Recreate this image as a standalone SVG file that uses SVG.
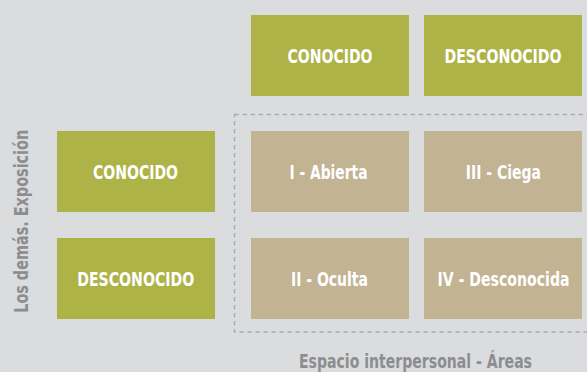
<svg xmlns="http://www.w3.org/2000/svg" width="587" height="372" viewBox="0 0 587 372">
<style>
.g{fill:#AEB348}
.t{fill:#C2B393}
.lb{font-family:"DejaVu Sans Condensed","DejaVu Sans",sans-serif;font-stretch:condensed;font-weight:bold;font-size:19.5px;fill:#FFFFFF;text-anchor:middle}
.ax{font-family:"DejaVu Sans Condensed","DejaVu Sans",sans-serif;font-stretch:condensed;font-weight:bold;font-size:19px;fill:#8C8D8F;text-anchor:middle}
</style>
<rect width="587" height="372" fill="#DBDCDE"/>
<g id="area-frame">
<rect x="234.5" y="114.5" width="360" height="217.5" fill="none" stroke="#ABACAE" stroke-width="1.5" stroke-dasharray="4.5,3.5"/>
</g>
<g id="top-conocido"><rect class="g" x="251" y="15" width="158" height="81"/><text class="lb" transform="translate(330,63.3) scale(0.8,1)" textLength="106.25" lengthAdjust="spacingAndGlyphs">CONOCIDO</text></g>
<g id="top-desconocido"><rect class="g" x="424" y="15" width="158" height="81"/><text class="lb" transform="translate(503,63.3) scale(0.8,1)" textLength="146.25" lengthAdjust="spacingAndGlyphs">DESCONOCIDO</text></g>
<g id="left-conocido"><rect class="g" x="57" y="131" width="158" height="81"/><text class="lb" transform="translate(135.5,179.3) scale(0.8,1)" textLength="106.25" lengthAdjust="spacingAndGlyphs">CONOCIDO</text></g>
<g id="left-desconocido"><rect class="g" x="57" y="238" width="158" height="81"/><text class="lb" transform="translate(135.7,286.3) scale(0.8,1)" textLength="146.25" lengthAdjust="spacingAndGlyphs">DESCONOCIDO</text></g>
<g id="abierta"><rect class="t" x="251" y="131" width="158" height="81"/><text class="lb" transform="translate(328.5,179.3) scale(0.8,1)" textLength="97.5" lengthAdjust="spacingAndGlyphs">I - Abierta</text></g>
<g id="ciega"><rect class="t" x="424" y="131" width="158" height="81"/><text class="lb" transform="translate(503.3,179.3) scale(0.8,1)" textLength="93.75" lengthAdjust="spacingAndGlyphs">III - Ciega</text></g>
<g id="oculta"><rect class="t" x="251" y="238" width="158" height="81"/><text class="lb" transform="translate(329.5,286.3) scale(0.8,1)" textLength="96.25" lengthAdjust="spacingAndGlyphs">II - Oculta</text></g>
<g id="desconocida"><rect class="t" x="424" y="238" width="158" height="81"/><text class="lb" transform="translate(503.5,286.3) scale(0.8,1)" textLength="165" lengthAdjust="spacingAndGlyphs">IV - Desconocida</text></g>
<g id="connectors"></g>
<text class="ax" x="415.5" y="367.5" textLength="233" lengthAdjust="spacingAndGlyphs">Espacio interpersonal - Áreas</text>
<text class="ax" transform="translate(27.5,221.3) rotate(-90)" textLength="183" lengthAdjust="spacingAndGlyphs">Los demás. Exposición</text>
</svg>
